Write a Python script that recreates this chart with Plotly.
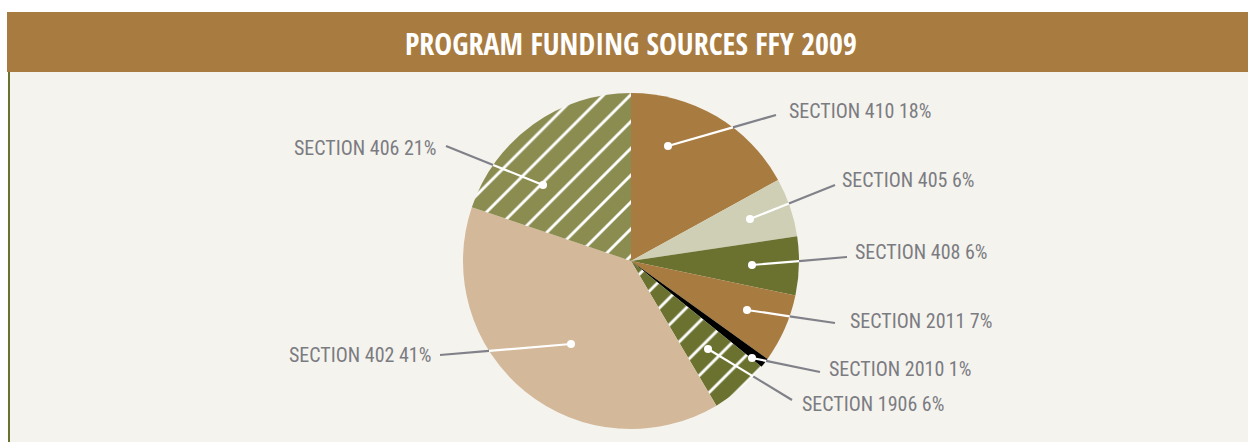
import math
import plotly.graph_objects as go

# ---- data ----
sections = ["SECTION 410", "SECTION 405", "SECTION 408", "SECTION 2011",
            "SECTION 2010", "SECTION 1906", "SECTION 402", "SECTION 406"]
percents = [18, 6, 6, 7, 1, 6, 41, 21]
title_text = "PROGRAM FUNDING SOURCES FFY 2009"

# ---- styles ----
slice_colors = ["#a87b41", "#cfcfb5", "#6b7230", "#a87b41",
                "#000000", "#6b7230", "#d3b899", "#8a8c50"]
slice_patterns = ["", "", "", "", "", "/", "", "/"]

W, H = 1248, 442
CX, CY, R = 631, 261, 168

# callout layout (pixels): dot position, line end, text anchor x, text y, side
callouts = [
    ((668, 146), (776, 115), 787, 111, "left"),
    ((750, 219), (835, 185), 840, 180, "left"),
    ((752, 265), (847, 257), 853, 252, "left"),
    ((747, 310), (835, 323), 848, 321, "left"),
    ((752, 358), (820, 372), 827, 369, "left"),
    ((708, 349), (792, 400), 800, 404, "left"),
    ((571, 344), (440, 355), 433, 355, "right"),
    ((543, 185), (446, 146), 438, 148, "right"),
]

LABEL_FONT = "Roboto Condensed, Liberation Sans Narrow, sans-serif"
TITLE_FONT = "Open Sans Condensed, Roboto Condensed, sans-serif"
GRAY = "#7b7c82"


def px(x):
    return x / W


def py(y):
    return 1 - y / H


fig = go.Figure()
fig.add_trace(go.Pie(
    labels=sections,
    values=percents,
    sort=False,
    direction="clockwise",
    rotation=0,
    textinfo="none",
    hoverinfo="label+value",
    showlegend=False,
    marker=dict(
        colors=slice_colors,
        line=dict(width=0),
        pattern=dict(shape=slice_patterns, fgcolor="#ffffff", fgopacity=1,
                     fillmode="overlay", size=19, solidity=0.15),
    ),
    domain=dict(x=[px(CX - R), px(CX + R)], y=[py(CY + R), py(CY - R)]),
))

shapes = [
    # panel background
    dict(type="rect", xref="paper", yref="paper", x0=px(8), x1=1, y0=0, y1=py(72),
         fillcolor="#f5f3ee", line=dict(width=0), layer="below"),
    # title bar
    dict(type="rect", xref="paper", yref="paper", x0=px(7), x1=1, y0=py(72), y1=py(12),
         fillcolor="#a87b41", line=dict(width=0), layer="below"),
    # left border
    dict(type="line", xref="paper", yref="paper", x0=px(9), x1=px(9), y0=0, y1=py(72),
         line=dict(color="#6b7230", width=2)),
]

annotations = [
    dict(text="<b>" + title_text + "</b>", x=px(631), y=py(44), xref="paper", yref="paper",
         showarrow=False, xanchor="center", yanchor="middle",
         font=dict(family=TITLE_FONT, size=30, color="#ffffff")),
]


def circle_exit(p0, p1):
    # point where segment p0->p1 leaves the pie circle
    x0, y0 = p0[0] - CX, p0[1] - CY
    dx, dy = p1[0] - p0[0], p1[1] - p0[1]
    a = dx * dx + dy * dy
    b = 2 * (x0 * dx + y0 * dy)
    c = x0 * x0 + y0 * y0 - R * R
    t = (-b + math.sqrt(b * b - 4 * a * c)) / (2 * a)
    t = max(0.0, min(1.0, t))
    return (p0[0] + t * dx, p0[1] + t * dy)


for name, pct, (dot, end, tx, ty, side) in zip(sections, percents, callouts):
    edge = circle_exit(dot, end)
    shapes.append(dict(type="line", xref="paper", yref="paper",
                       x0=px(edge[0]), y0=py(edge[1]), x1=px(end[0]), y1=py(end[1]),
                       line=dict(color="#808189", width=2.2)))
    shapes.append(dict(type="line", xref="paper", yref="paper",
                       x0=px(dot[0]), y0=py(dot[1]), x1=px(edge[0]), y1=py(edge[1]),
                       line=dict(color="#ffffff", width=2.2)))
    rr = 4
    shapes.append(dict(type="circle", xref="paper", yref="paper",
                       x0=px(dot[0] - rr), x1=px(dot[0] + rr),
                       y0=py(dot[1] + rr), y1=py(dot[1] - rr),
                       fillcolor="#ffffff", line=dict(width=0)))
    annotations.append(dict(text=f"{name} {pct}%", x=px(tx), y=py(ty),
                            xref="paper", yref="paper", showarrow=False,
                            xanchor=side, yanchor="middle",
                            font=dict(family=LABEL_FONT, size=20, color=GRAY)))

fig.update_layout(
    width=W, height=H,
    margin=dict(l=0, r=0, t=0, b=0),
    paper_bgcolor="#ffffff",
    plot_bgcolor="#ffffff",
    shapes=shapes,
    annotations=annotations,
)

fig.write_html("out.html", config={"displayModeBar": False},
               post_script="document.body.style.margin='0';")
